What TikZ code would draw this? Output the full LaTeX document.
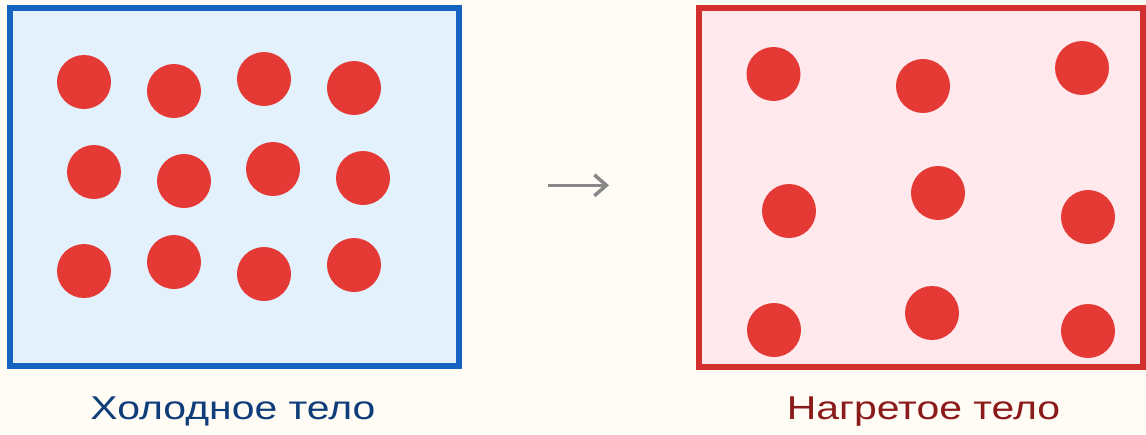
\documentclass[tikz,border=0pt]{standalone}
\usepackage{fontspec}
\setmainfont{Liberation Sans}
\usetikzlibrary{arrows.meta}
\definecolor{bg}{HTML}{FFFCF5}
\definecolor{coldfill}{HTML}{E3F1FC}
\definecolor{colddraw}{HTML}{1565C0}
\definecolor{hotfill}{HTML}{FFE9EC}
\definecolor{hotdraw}{HTML}{D32F2F}
\definecolor{particle}{HTML}{E53935}
\definecolor{coldtext}{HTML}{0F3D7A}
\definecolor{hottext}{HTML}{8B1A1A}
\definecolor{arrowgray}{HTML}{888888}
\tikzset{
  pt/.style={circle, fill=particle, minimum size=54pt, inner sep=0pt, draw=none},
  lbl/.style={font=\fontsize{33pt}{40pt}\selectfont, anchor=base, inner sep=0pt, xscale=1.24}
}
\begin{document}
\begin{tikzpicture}[x=1pt,y=-1pt]
\fill[bg] (0,0) rectangle (1146,434);
\useasboundingbox (0,0) rectangle (1146,434);
\draw[line width=6pt, draw=colddraw, fill=coldfill] (10,8) rectangle (459,366);
\draw[line width=6pt, draw=hotdraw, fill=hotfill] (698.7,7.5) rectangle (1143,367);
% cold particles
\foreach \x/\y [count=\i] in {84/82,174/91,264/79,354/88,94/172,184/181,273/169,363/178,84/271,174/262,264/274,354/265}
  \node[pt] (c\i) at (\x,\y) {};
% hot particles
\foreach \x/\y [count=\i] in {773.5/74,923/86,1082/68,789/211,938/193,1088/217,774/330,932/313,1088/331}
  \node[pt] (h\i) at (\x,\y) {};
\coordinate (a1) at (548,185.3);
\coordinate (a2) at (609,185.3);
\draw[arrowgray, line width=3.5pt, -{Straight Barb[length=12pt,width=21pt]}] (a1) -- (a2);
\node[lbl, text=coldtext] (tc) at (233,419.5) {Холодное тело};
\node[lbl, text=hottext] (th) at (923.5,419.5) {Нагретое тело};
\end{tikzpicture}
\end{document}
